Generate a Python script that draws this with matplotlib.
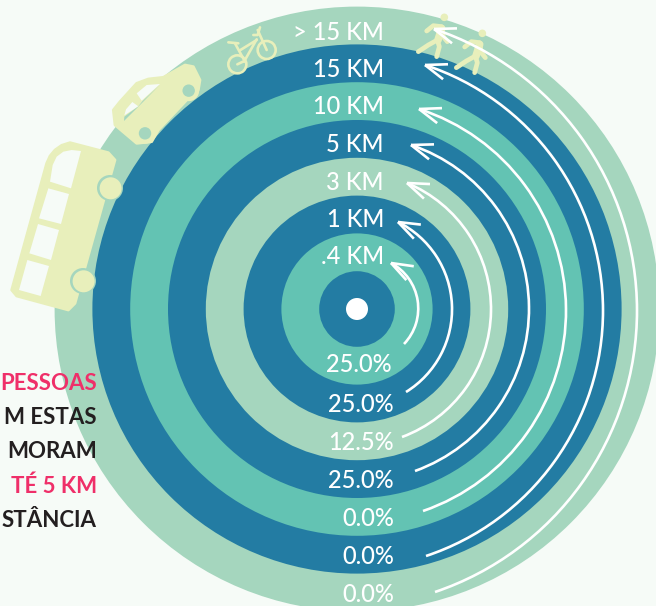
import numpy as np
import matplotlib
matplotlib.use("Agg")
import matplotlib.pyplot as plt
from matplotlib.patches import Circle, Polygon, Arc

########################################
# data
########################################
DISTANCES = [".4 KM", "1 KM", "3 KM", "5 KM", "10 KM", "15 KM", "> 15 KM"]
SHARES = [25.0, 25.0, 12.5, 25.0, 0.0, 0.0, 0.0]
# only the part of the side note that the picture shows
SIDE_LINES = ["PESSOAS", "M ESTAS", "MORAM", "TÉ 5 KM", "STÂNCIA"]
SIDE_COLORS = ["#EF2F69", "#231F20", "#231F20", "#EF2F69", "#231F20"]

BG = "#F6FBF7"
BLUE = "#237CA3"
TEAL = "#63C3B3"
LIGHT = "#A5D6BE"
CREAM = "#E8EFBB"
RING_COLORS = [TEAL, BLUE, LIGHT, BLUE, TEAL, BLUE, LIGHT]

CX, CY = 357, 309
BAND = 37.8

# arrow layout, one per ring: tip, right-most x, tail
ARROW_TIPS = [(391, 263), (398, 222), (407, 183), (411, 145), (419, 109), (425, 65), (434, 29)]
ARROW_RIGHT = [418, 452, 491, 529, 566, 603, 637]
ARROW_TAILS = [(404, 344), (406, 392), (402, 437), (415, 471), (423, 511), (426, 556), (435, 592)]

plt.rcParams["font.family"] = ["Lato", "DejaVu Sans"]

fig = plt.figure(figsize=(6.56, 6.06), dpi=100, facecolor=BG)
ax = fig.add_axes([0, 0, 1, 1])
ax.set_xlim(0, 656)
ax.set_ylim(606, 0)
ax.axis("off")


def circle_through(p1, p2, p3):
    a = np.array([[p2[0] - p1[0], p2[1] - p1[1]], [p3[0] - p1[0], p3[1] - p1[1]]], dtype=float) * 2
    b = np.array([p2[0]**2 - p1[0]**2 + p2[1]**2 - p1[1]**2,
                  p3[0]**2 - p1[0]**2 + p3[1]**2 - p1[1]**2], dtype=float)
    c = np.linalg.solve(a, b)
    return c[0], c[1], np.hypot(p1[0] - c[0], p1[1] - c[1])


def draw_arrow(tip, right_x, tail):
    mid_y = (tip[1] + tail[1]) / 2
    x0, y0, r = circle_through(tip, (right_x, mid_y), tail)
    # y axis is flipped so the angles run clockwise on screen
    a_tip = np.degrees(np.arctan2(tip[1] - y0, tip[0] - x0))
    a_tail = np.degrees(np.arctan2(tail[1] - y0, tail[0] - x0))
    ax.add_patch(Arc((x0, y0), 2 * r, 2 * r, theta1=a_tip, theta2=a_tail,
                     color="white", lw=1.9, zorder=6))
    tangent = np.radians(a_tip + 90)
    for turn in (-20, 20):
        t = tangent + np.radians(turn)
        ax.plot([tip[0], tip[0] + 23 * np.cos(t)], [tip[1], tip[1] + 23 * np.sin(t)],
                color="white", lw=1.9, solid_capstyle="butt", zorder=6)


def draw_bus():
    body = [(35, 870), (140, 490), (150, 468), (165, 450), (185, 436), (210, 428), (325, 458), (345, 480),
            (225, 910), (205, 930), (50, 888)]
    ax.add_patch(Polygon(np.array(body) / 3, fc=CREAM, ec=CREAM, lw=2, joinstyle="round", zorder=3))
    windows = [
        [(57, 870), (122, 888), (147, 798), (82, 780)],
        [(88, 760), (153, 780), (177, 690), (114, 672)],
        [(117, 655), (183, 672), (207, 582), (145, 565)],
        [(150, 545), (213, 565), (243, 453), (215, 450), (190, 455), (170, 470), (158, 495)],
    ]
    for w in windows:
        ax.add_patch(Polygon(np.array(w) / 3, fc=BG, ec="none", zorder=4))
    for c in [(110, 188), (83, 281)]:
        ax.add_patch(Circle(c, 13, fc=LIGHT, ec="none", zorder=4))
        ax.add_patch(Circle((c[0] + 0.6, c[1] + 0.3), 11, fc=CREAM, ec="none", zorder=4))


def draw_car():
    off = np.array([105, 60])
    body = [(95, 250), (30, 195), (25, 150), (45, 125), (95, 70), (130, 57), (175, 52), (240, 15),
            (265, 20), (285, 60), (280, 90), (250, 115), (160, 210), (140, 245)]
    ax.add_patch(Polygon(np.array(body) / 3 + off, fc=CREAM, ec=CREAM, lw=2, joinstyle="round", zorder=3))
    win1 = [(58, 166), (63, 148), (82, 126), (100, 139)]
    win2 = [(95, 100), (125, 75), (165, 72), (110, 122)]
    stripe = [(57, 183), (58, 170), (100, 139), (112, 124), (165, 74), (110, 130)]
    ax.add_patch(Polygon(np.array(win1) / 3 + off, fc=BG, ec="none", zorder=4))
    ax.add_patch(Polygon(np.array(win2) / 3 + off, fc=BG, ec="none", zorder=4))
    ax.add_patch(Polygon(np.array(stripe) / 3 + off, fc=LIGHT, ec="none", zorder=4))
    for c in [(120, 220), (251, 92)]:
        c = np.array(c) / 3 + off
        ax.add_patch(Circle(c, 10.5, fc=CREAM, ec="none", zorder=4))
        ax.add_patch(Circle(c, 6.2, fc=LIGHT, ec="none", zorder=4))


def draw_bike():
    off = np.array([220, 20])
    for c in [(52, 133), (140, 90)]:
        ax.add_patch(Circle(np.array(c) / 3 + off, 9, fc="none", ec=CREAM, lw=1.9, zorder=4))
    parts = [
        [(25, 67), (55, 70)], [(45, 70), (75, 125)], [(58, 92), (110, 60)],
        [(110, 58), (72, 125)], [(52, 133), (75, 122)], [(140, 90), (113, 30)],
        [(120, 22), (113, 45), (100, 45)],
    ]
    for p in parts:
        p = np.array(p) / 3 + off
        ax.plot(p[:, 0], p[:, 1], color=CREAM, lw=1.9, solid_capstyle="round", zorder=4)


def draw_walker(shift):
    off = np.array([410, 5]) + np.array(shift)
    ax.add_patch(Circle(np.array((103, 37)) / 3 + off, 3.8, fc=CREAM, ec="none", zorder=4))
    torso = np.array([(95, 70), (84, 105)]) / 3 + off
    ax.plot(torso[:, 0], torso[:, 1], color=CREAM, lw=5.5, solid_capstyle="round", zorder=4)
    parts = [
        [(50, 78), (70, 62), (95, 65)],
        [(82, 105), (55, 120), (25, 140)], [(82, 105), (88, 125), (80, 155)],
        [(95, 70), (100, 95), (112, 110)],
    ]
    for p in parts:
        p = np.array(p) / 3 + off
        ax.plot(p[:, 0], p[:, 1], color=CREAM, lw=3.4, solid_capstyle="round",
                solid_joinstyle="round", zorder=4)


########################################
# rings, biggest first
########################################
ax.add_patch(Circle((CX, CY), BAND, fc=BLUE, ec="none", zorder=2))
for i in range(len(DISTANCES) - 1, -1, -1):
    ax.add_patch(Circle((CX, CY), BAND * (i + 2), fc=RING_COLORS[i], ec="none", zorder=1 + (6 - i) * 0.1))
ax.add_patch(Circle((CX, CY), 11, fc="white", ec="none", zorder=3))

draw_bus()
draw_car()
draw_bike()
draw_walker((0, 0))
draw_walker((38, 16))

for tip, right_x, tail in zip(ARROW_TIPS, ARROW_RIGHT, ARROW_TAILS):
    draw_arrow(tip, right_x, tail)

########################################
# labels
########################################
for i, name in enumerate(DISTANCES):
    ax.text(384, 255 - i * 37.5, name, color="white", fontsize=17, fontweight="medium",
            ha="right", va="center_baseline", zorder=7)

pct_y = [362, 402, 440, 478, 517, 555, 592]
pct_x = [392, 394, 394, 394, 394, 394, 394]
for share, x, y in zip(SHARES, pct_x, pct_y):
    ax.text(x, y, f"{share:.1f}%", color="white", fontsize=17, fontweight="medium",
            ha="right", va="center_baseline", zorder=7)

for i, (line, col) in enumerate(zip(SIDE_LINES, SIDE_COLORS)):
    ax.text(97, 381 + i * 34.3, line, color=col, fontsize=16, fontweight="bold",
            ha="right", va="center_baseline", zorder=7)

fig.savefig("out.png", dpi=100, facecolor=BG)
